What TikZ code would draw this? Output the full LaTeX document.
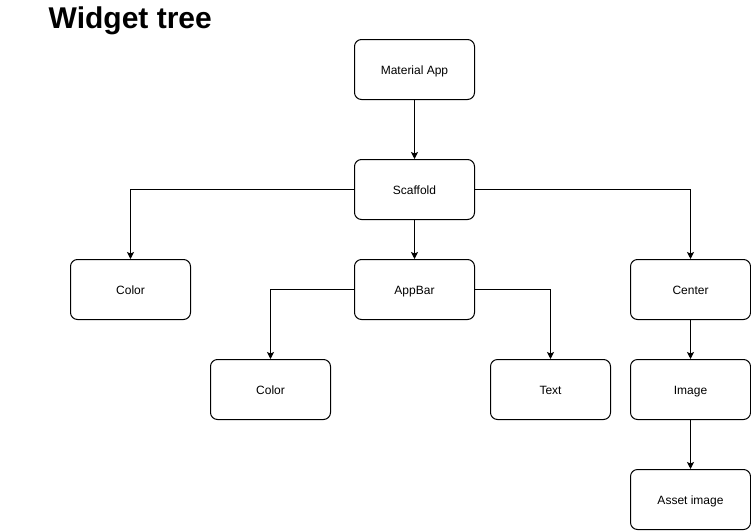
\documentclass[tikz,border=0pt]{standalone}
\usepackage{fontspec}
\setmainfont{Liberation Sans}
\usetikzlibrary{positioning,arrows.meta}
\tikzset{
  flowarrow/.style={-{Stealth[length=7pt, width=7pt, inset=1.5pt]}, line width=1pt},
  widget/.style={draw, rounded corners=7pt, line width=1pt, fill=white, minimum width=120pt, minimum height=60pt, align=center, text height=11pt, text depth=1.4pt, font=\fontsize{12}{14}\selectfont},
  heading/.style={anchor=base west, inner sep=0pt, font=\fontsize{30}{36}\selectfont\bfseries}
}

\begin{document}
\begin{tikzpicture}[x=1pt, y=-1pt]
  \useasboundingbox (0,0) rectangle (751,530);
  \node[heading] (title) at (48.5,28) {Widget tree};
  % top of the tree
  \node[widget] (mat) at (414.5,69.5) {Material App};
  \node[widget] (scaf) at (414.5,189.5) {Scaffold};
  % second row
  \node[widget] (col1) at (130.5,289.5) {Color};
  \node[widget] (bar) at (414.5,289.5) {AppBar};
  \node[widget] (cen) at (690.5,289.5) {Center};
  % third row
  \node[widget] (col2) at (270.5,389.5) {Color};
  \node[widget] (txt) at (550.5,389.5) {Text};
  \node[widget] (img) at (690.5,389.5) {Image};
  \node[widget] (asset) at (690.5,499.5) {Asset image};
  \draw[flowarrow] (mat) -- (scaf);
  \draw[flowarrow] (scaf.west) -| (col1.north);
  \draw[flowarrow] (scaf) -- (bar);
  \draw[flowarrow] (scaf.east) -| (cen.north);
  \draw[flowarrow] (bar.west) -| (col2.north);
  \draw[flowarrow] (bar.east) -| (txt.north);
  \draw[flowarrow] (cen) -- (img);
  \draw[flowarrow] (img) -- (asset);
\end{tikzpicture}
\end{document}
